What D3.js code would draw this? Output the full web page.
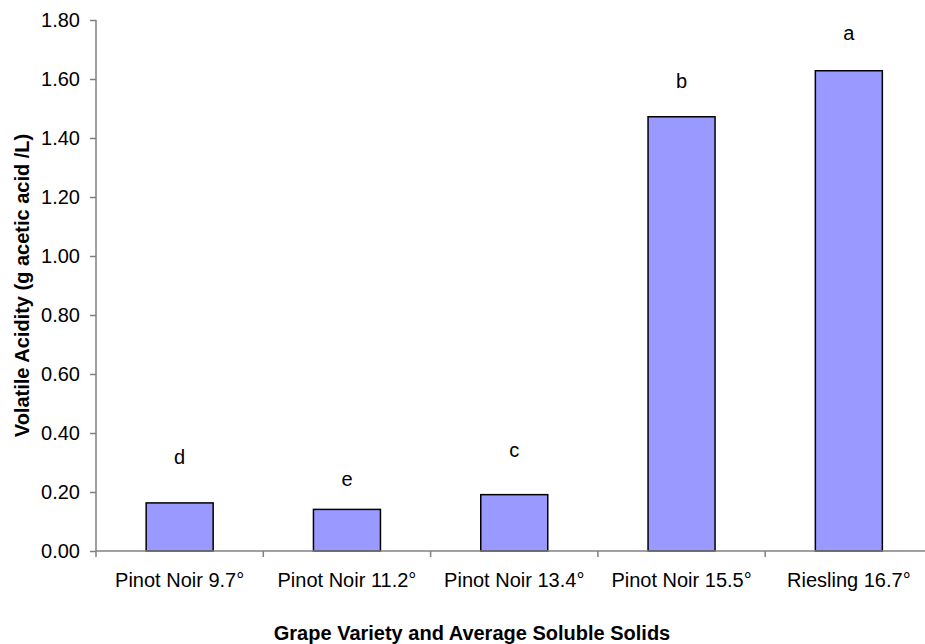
<!DOCTYPE html>
<html>
<head>
<meta charset="utf-8">
<script src="https://cdn.jsdelivr.net/npm/d3@7"></script>
<style>
  html, body { margin: 0; padding: 0; background: #fff; }
  svg { display: block; font-family: "Liberation Sans", Arial, sans-serif; }
</style>
</head>
<body>
<svg id="chart" width="925" height="644"></svg>
<script>
// Volatile acidity by grape variety / soluble solids
const categories = ["Pinot Noir 9.7°", "Pinot Noir 11.2°", "Pinot Noir 13.4°", "Pinot Noir 15.5°", "Riesling 16.7°"];
const values = [0.163, 0.141, 0.191, 1.472, 1.628];
// significance letters and the height (g/L) each letter sits at
const letters = ["d", "e", "c", "b", "a"];
const letterLevels = [0.318, 0.244, 0.344, 1.593, 1.757];
const yTicks = [0, 0.2, 0.4, 0.6, 0.8, 1.0, 1.2, 1.4, 1.6, 1.8];

const svg = d3.select("#chart");
const plotLeft = 96, plotTop = 20, plotBottom = 551, bandW = 167.3;
const plotRight = plotLeft + bandW * categories.length;
const fontSize = 20;

const x = d3.scaleBand().domain(categories).range([plotLeft, plotRight]).paddingInner(0).paddingOuter(0);
const y = d3.scaleLinear().domain([0, 1.8]).range([plotBottom, plotTop]);
const barW = 67;

// bars
svg.append("g").selectAll("rect").data(values).join("rect")
  .attr("x", (d, i) => x(categories[i]) + x.bandwidth() / 2 - barW / 2)
  .attr("y", d => y(d))
  .attr("width", barW)
  .attr("height", d => y(0) - y(d))
  .attr("fill", "#9999ff")
  .attr("stroke", "#000")
  .attr("stroke-width", 1.5);

// y axis
const yAxis = d3.axisLeft(y).tickValues(yTicks).tickFormat(d3.format(".2f")).tickSize(6).tickPadding(10);
const gy = svg.append("g").attr("transform", `translate(${plotLeft},0)`).call(yAxis);
gy.select(".domain").attr("stroke", "#808080").attr("stroke-width", 1.5).attr("d", `M0,${plotTop}V${plotBottom + 6}`);
gy.selectAll(".tick line").attr("stroke", "#808080").attr("stroke-width", 1.5);
gy.selectAll(".tick text").attr("font-size", fontSize).attr("fill", "#000")
  .attr("font-family", "Liberation Sans, Arial, sans-serif");

// x axis: ticks between categories
const gx = svg.append("g").attr("transform", `translate(0,${plotBottom})`);
gx.append("line").attr("x1", plotLeft).attr("x2", plotRight).attr("y1", 0).attr("y2", 0)
  .attr("stroke", "#808080").attr("stroke-width", 1.5);
gx.selectAll("line.sep").data(categories.slice(1)).join("line").attr("class", "sep")
  .attr("x1", d => x(d)).attr("x2", d => x(d)).attr("y1", 0).attr("y2", 6)
  .attr("stroke", "#808080").attr("stroke-width", 1.5);
gx.selectAll("text").data(categories).join("text")
  .attr("x", d => x(d) + x.bandwidth() / 2)
  .attr("y", 36)
  .attr("text-anchor", "middle")
  .attr("font-size", fontSize)
  .text(d => d);

// significance letters
svg.append("g").selectAll("text").data(letters).join("text")
  .attr("x", (d, i) => x(categories[i]) + x.bandwidth() / 2)
  .attr("y", (d, i) => y(letterLevels[i]))
  .attr("dy", "0.35em")
  .attr("text-anchor", "middle")
  .attr("font-size", fontSize)
  .text(d => d);

// axis titles
svg.append("text")
  .attr("x", 472)
  .attr("y", 639.5)
  .attr("text-anchor", "middle")
  .attr("font-size", fontSize)
  .attr("font-weight", "bold")
  .text("Grape Variety and Average Soluble Solids");

svg.append("text")
  .attr("transform", `translate(29,${(plotTop + plotBottom) / 2}) rotate(-90)`)
  .attr("text-anchor", "middle")
  .attr("font-size", fontSize)
  .attr("font-weight", "bold")
  .text("Volatile Acidity (g acetic acid /L)");
</script>
</body>
</html>
